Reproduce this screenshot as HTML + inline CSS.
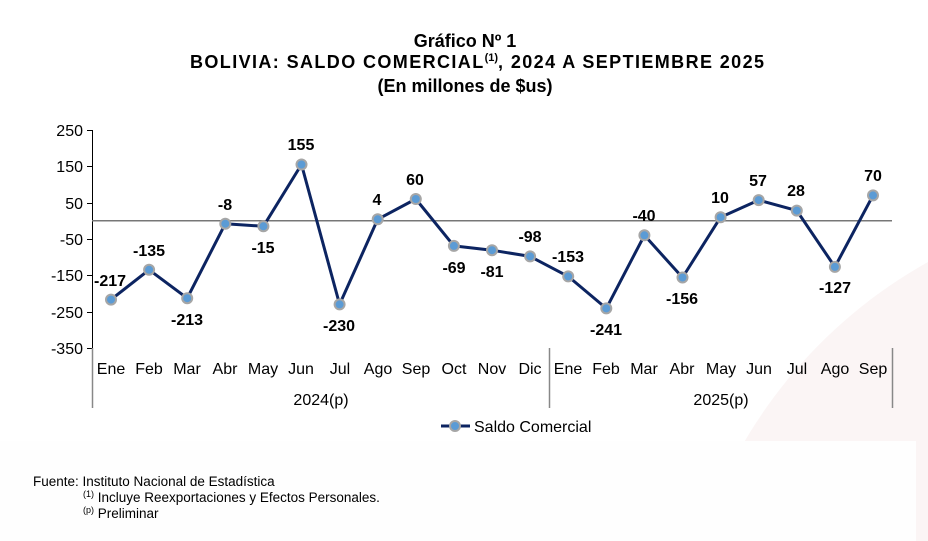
<!DOCTYPE html>
<html><head><meta charset="utf-8"><style>
html,body{margin:0;padding:0;background:#fff;width:928px;height:541px;overflow:hidden;font-family:"Liberation Sans",Arial,sans-serif}
svg{display:block}
</style></head><body>
<svg width="928" height="541" xmlns="http://www.w3.org/2000/svg" font-family="Liberation Sans, Arial, sans-serif" overflow="hidden">
<path d="M700,541 A490,490 0 0 1 928,262 L928,541 Z" fill="#fbf5f5"/>
<rect x="0" y="441" width="916" height="100" fill="#fefefe"/>
<g font-weight="bold" font-size="18" text-anchor="middle" fill="#000">
<text x="465" y="47">Gráfico Nº 1</text>
<text x="190" y="68" text-anchor="start" letter-spacing="1.4">BOLIVIA: SALDO COMERCIAL<tspan font-size="11" dy="-7" letter-spacing="0">(1)</tspan><tspan dy="7">, 2024 A SEPTIEMBRE 2025</tspan></text>
<text x="465" y="92">(En millones de $us)</text>
</g>
<g font-size="16" text-anchor="end" fill="#000">
<text x="83" y="136">250</text><text x="83" y="172">150</text><text x="83" y="209">50</text>
<text x="83" y="245">-50</text><text x="83" y="281">-150</text><text x="83" y="318">-250</text><text x="83" y="354">-350</text>
</g>
<g stroke="#000" stroke-width="1">
<line x1="92.5" y1="130" x2="92.5" y2="348"/>
<line x1="87" y1="130.5" x2="92" y2="130.5"/><line x1="87" y1="166.5" x2="92" y2="166.5"/><line x1="87" y1="203.5" x2="92" y2="203.5"/>
<line x1="87" y1="239.5" x2="92" y2="239.5"/><line x1="87" y1="275.5" x2="92" y2="275.5"/><line x1="87" y1="312.5" x2="92" y2="312.5"/><line x1="87" y1="348.5" x2="92" y2="348.5"/>
</g>
<g stroke="#888" stroke-width="1.5">
<line x1="92.5" y1="348" x2="92.5" y2="408"/>
<line x1="549.5" y1="348" x2="549.5" y2="408"/>
<line x1="892.5" y1="348" x2="892.5" y2="408"/>
<line x1="92" y1="220.8" x2="892" y2="220.8" stroke="#777"/>
</g>
<polyline fill="none" stroke="#0c2461" stroke-width="3" stroke-linejoin="round" points="111,299.6 149.1,269.8 187.2,298.2 225.3,223.7 263.4,226.3 301.5,164.5 339.6,304.4 377.7,219.3 415.8,199 453.9,245.9 492,250.2 530.1,256.4 568.2,276.4 606.3,308.4 644.4,235.3 682.5,277.5 720.6,217.2 758.7,200.1 796.8,210.6 834.9,266.9 873,195.4"/>
<g fill="#5b9bd5" stroke="#a6a6a6" stroke-width="2">
<circle cx="111" cy="299.6" r="5"/><circle cx="149.1" cy="269.8" r="5"/><circle cx="187.2" cy="298.2" r="5"/><circle cx="225.3" cy="223.7" r="5"/><circle cx="263.4" cy="226.3" r="5"/><circle cx="301.5" cy="164.5" r="5"/><circle cx="339.6" cy="304.4" r="5"/><circle cx="377.7" cy="219.3" r="5"/><circle cx="415.8" cy="199" r="5"/><circle cx="453.9" cy="245.9" r="5"/><circle cx="492" cy="250.2" r="5"/><circle cx="530.1" cy="256.4" r="5"/><circle cx="568.2" cy="276.4" r="5"/><circle cx="606.3" cy="308.4" r="5"/><circle cx="644.4" cy="235.3" r="5"/><circle cx="682.5" cy="277.5" r="5"/><circle cx="720.6" cy="217.2" r="5"/><circle cx="758.7" cy="200.1" r="5"/><circle cx="796.8" cy="210.6" r="5"/><circle cx="834.9" cy="266.9" r="5"/><circle cx="873" cy="195.4" r="5"/>
</g>
<g font-size="16" font-weight="bold" text-anchor="middle" fill="#000">
<text x="110" y="286">-217</text><text x="149" y="256">-135</text><text x="187" y="325">-213</text><text x="225" y="210">-8</text><text x="263" y="253">-15</text><text x="301" y="150">155</text><text x="339" y="331">-230</text><text x="377" y="205">4</text><text x="415" y="185">60</text><text x="454" y="273">-69</text><text x="492" y="277">-81</text><text x="530" y="242">-98</text><text x="568" y="262">-153</text><text x="606" y="335">-241</text><text x="644" y="221">-40</text><text x="682" y="304">-156</text><text x="720" y="203">10</text><text x="758" y="186">57</text><text x="796" y="196">28</text><text x="835" y="293">-127</text><text x="873" y="181">70</text>
</g>
<g font-size="16" text-anchor="middle" fill="#000">
<text x="111" y="374">Ene</text><text x="149" y="374">Feb</text><text x="187" y="374">Mar</text><text x="225" y="374">Abr</text><text x="263" y="374">May</text><text x="301" y="374">Jun</text><text x="340" y="374">Jul</text><text x="378" y="374">Ago</text><text x="416" y="374">Sep</text><text x="454" y="374">Oct</text><text x="492" y="374">Nov</text><text x="530" y="374">Dic</text><text x="568" y="374">Ene</text><text x="606" y="374">Feb</text><text x="644" y="374">Mar</text><text x="682" y="374">Abr</text><text x="721" y="374">May</text><text x="759" y="374">Jun</text><text x="797" y="374">Jul</text><text x="835" y="374">Ago</text><text x="873" y="374">Sep</text>
<text x="321" y="405">2024(p)</text><text x="721" y="405">2025(p)</text>
</g>
<line x1="441" y1="426" x2="470" y2="426" stroke="#0c2461" stroke-width="3"/>
<circle cx="455" cy="426" r="5" fill="#5b9bd5" stroke="#a6a6a6" stroke-width="2"/>
<text x="474" y="432" font-size="16" fill="#000">Saldo Comercial</text>
<g font-size="13.5" fill="#000">
<text x="33" y="486">Fuente: Instituto Nacional de Estadística</text>
<text x="83" y="502"><tspan font-size="9" dy="-5">(1)</tspan><tspan dy="5"> Incluye Reexportaciones y Efectos Personales.</tspan></text>
<text x="83" y="518"><tspan font-size="9" dy="-5">(p)</tspan><tspan dy="5"> Preliminar</tspan></text>
</g>
</svg>
</body></html>
